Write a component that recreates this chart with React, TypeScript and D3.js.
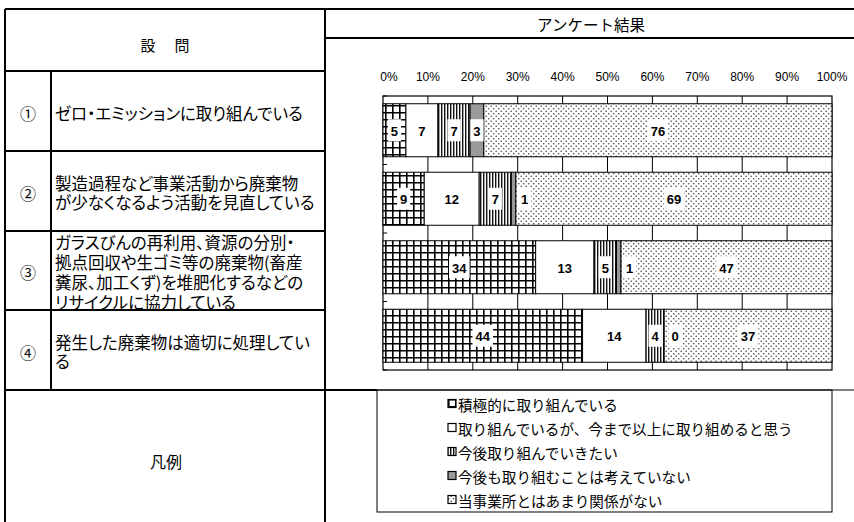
import React, { useEffect, useRef } from 'react';
import * as d3 from 'd3';

// questions (left column) and their wording, one entry per text line
const questionNos = ['①', '②', '③', '④'];
const questionLines = [
  ['ゼロ・エミッションに取り組んでいる'],
  ['製造過程など事業活動から廃棄物', 'が少なくなるよう活動を見直している'],
  ['ガラスびんの再利用、資源の分別・', '拠点回収や生ゴミ等の廃棄物(畜産', '糞尿、加工くず)を堆肥化するなどの', 'リサイクルに協力している'],
  ['発生した廃棄物は適切に処理してい', 'る'],
];

const seriesNames = [
  '積極的に取り組んでいる',
  '取り組んでいるが、今まで以上に取り組めると思う',
  '今後取り組んでいきたい',
  '今後も取り組むことは考えていない',
  '当事業所とはあまり関係がない',
];

// answers per question (%)
const activeValues = [5, 9, 34, 44];
const moreValues = [7, 12, 13, 14];
const futureValues = [7, 7, 5, 4];
const noValues = [3, 1, 1, 0];
const unrelatedValues = [76, 69, 47, 37];

const xTicks = [0, 10, 20, 30, 40, 50, 60, 70, 80, 90, 100];

const fills = ['url(#pGrid)', '#ffffff', 'url(#pVert)', '#999999', 'url(#pDots)'];

const JP = '"Noto Sans CJK JP", sans-serif';
const LAT = '"Liberation Sans", Arial, sans-serif';

export default function App() {
  const ref = useRef<SVGSVGElement>(null);

  useEffect(() => {
    const svg = d3.select(ref.current);
    svg.selectAll('*').remove();

    // patterns
    const defs = svg.append('defs');
    const grid = defs.append('pattern').attr('id', 'pGrid').attr('patternUnits', 'userSpaceOnUse').attr('width', 7).attr('height', 7);
    grid.append('rect').attr('width', 7).attr('height', 7).attr('fill', '#fff');
    grid.append('path').attr('d', 'M0,0.8H7M0.8,0V7').attr('stroke', '#000').attr('stroke-width', 1.6);
    const vert = defs.append('pattern').attr('id', 'pVert').attr('patternUnits', 'userSpaceOnUse').attr('width', 3).attr('height', 6);
    vert.append('rect').attr('width', 3).attr('height', 6).attr('fill', '#fff');
    vert.append('rect').attr('width', 1.4).attr('height', 6).attr('fill', '#111');
    const dots = defs.append('pattern').attr('id', 'pDots').attr('patternUnits', 'userSpaceOnUse').attr('width', 5).attr('height', 5);
    dots.append('rect').attr('width', 5).attr('height', 5).attr('fill', '#fff');
    dots.append('circle').attr('cx', 1.2).attr('cy', 1.2).attr('r', 0.8).attr('fill', '#444');
    dots.append('circle').attr('cx', 3.7).attr('cy', 3.7).attr('r', 0.8).attr('fill', '#444');

    svg.append('rect').attr('width', 854).attr('height', 522).attr('fill', '#fff');

    // table frame
    const thick = (x1: number, y1: number, x2: number, y2: number, w = 2) =>
      svg.append('line').attr('x1', x1).attr('y1', y1).attr('x2', x2).attr('y2', y2).attr('stroke', '#000').attr('stroke-width', w);
    thick(5, 9, 854, 9);
    thick(5, 9, 5, 522);
    thick(325, 9, 325, 522);
    thick(325, 38, 854, 38);
    thick(5, 71, 325, 71);
    thick(51, 71, 51, 390);
    [151, 231, 310].forEach((y) => thick(5, y, 325, y));
    thick(5, 390, 377, 390);
    thick(377, 390, 854, 390, 1);

    svg.append('text').attr('x', 166).attr('y', 44).attr('text-anchor', 'middle').attr('dominant-baseline', 'central')
      .style('font-family', JP).style('font-size', '15px').style('letter-spacing', '2px').text('設　問');
    svg.append('text').attr('x', 591).attr('y', 24).attr('text-anchor', 'middle').attr('dominant-baseline', 'central')
      .style('font-family', JP).style('font-size', '15.5px').text('アンケート結果');
    svg.append('text').attr('x', 166).attr('y', 461).attr('text-anchor', 'middle').attr('dominant-baseline', 'central')
      .style('font-family', JP).style('font-size', '16px').text('凡例');

    // question rows
    const rowTop = [71, 151, 231, 310, 390];
    questionNos.forEach((q, i) => {
      const cy = (rowTop[i] + rowTop[i + 1]) / 2 + 1.5;
      svg.append('text').attr('x', 28).attr('y', cy).attr('text-anchor', 'middle').attr('dominant-baseline', 'central')
        .style('font-family', JP).style('font-size', '16px').text(q);
      const lines = questionLines[i];
      const lh = 19.7;
      const y0 = cy - ((lines.length - 1) * lh) / 2;
      lines.forEach((t, j) => {
        svg.append('text').attr('x', 55).attr('y', y0 + j * lh).attr('dominant-baseline', 'central')
          .style('font-family', JP).style('font-size', '16.5px').style('font-feature-settings', '"palt"').text(t);
      });
    });

    // chart
    const x = d3.scaleLinear().domain([0, 100]).range([383, 832]);
    const y = d3.scaleBand().domain(questionNos).range([96, 370]).paddingInner(0.226).paddingOuter(0.113);

    const table = questionNos.map((q, i) => ({
      q,
      s0: activeValues[i], s1: moreValues[i], s2: futureValues[i], s3: noValues[i], s4: unrelatedValues[i],
    }));
    const keys = ['s0', 's1', 's2', 's3', 's4'];
    const stacked = d3.stack<any>().keys(keys).offset(d3.stackOffsetExpand)(table);

    const plot = svg.append('g');
    plot.append('rect').attr('x', x(0)).attr('y', 96).attr('width', x(100) - x(0)).attr('height', 274)
      .attr('fill', '#fff').attr('stroke', '#000').attr('stroke-width', 1.2);
    plot.selectAll('.grid').data(xTicks.slice(1, -1)).enter().append('line')
      .attr('x1', (d) => x(d)).attr('x2', (d) => x(d)).attr('y1', 96).attr('y2', 370)
      .attr('stroke', '#000').attr('stroke-width', 1);

    // category ticks on band boundaries
    const step = y.step();
    const bounds = d3.range(questionNos.length + 1).map((k) => 96 + k * step);
    plot.selectAll('.ctick').data(bounds).enter().append('line')
      .attr('x1', x(0)).attr('x2', x(0) + 4).attr('y1', (d) => d).attr('y2', (d) => d)
      .attr('stroke', '#000').attr('stroke-width', 1);

    stacked.forEach((layer, si) => {
      plot.selectAll('.bar' + si).data(layer).enter().append('rect')
        .attr('x', (d) => x(d[0] * 100))
        .attr('y', (d) => y(d.data.q) as number)
        .attr('width', (d) => x(d[1] * 100) - x(d[0] * 100))
        .attr('height', y.bandwidth())
        .attr('fill', fills[si])
        .attr('stroke', '#000')
        .attr('stroke-width', 1);
    });

    // value labels
    stacked.forEach((layer, si) => {
      layer.forEach((d) => {
        const val = (d.data as any)[keys[si]];
        const x0 = x(d[0] * 100);
        const x1 = x(d[1] * 100);
        let cx = (x0 + x1) / 2;
        if (x1 - x0 < 6) cx += 11;
        const cy = (y(d.data.q) as number) + y.bandwidth() / 2;
        const label = String(val);
        const w = label.length * 7.3 + 6;
        const g = plot.append('g');
        g.append('rect').attr('x', cx - w / 2).attr('y', cy - 11).attr('width', w).attr('height', 22).attr('fill', '#fff');
        g.append('text').attr('x', cx).attr('y', cy + 1).attr('text-anchor', 'middle').attr('dominant-baseline', 'central')
          .style('font-family', LAT).style('font-weight', 'bold').style('font-size', '13px').text(label);
      });
    });

    // x axis labels
    svg.selectAll('.xl').data(xTicks).enter().append('text')
      .attr('x', (d) => x(d) + (d === 0 ? 6 : 0)).attr('y', 77)
      .attr('text-anchor', 'middle').attr('dominant-baseline', 'central')
      .style('font-family', LAT).style('font-size', '12px').text((d) => d + '%');

    // legend
    svg.append('rect').attr('x', 377).attr('y', 390).attr('width', 455).attr('height', 122)
      .attr('fill', 'none').attr('stroke', '#000').attr('stroke-width', 1);
    seriesNames.forEach((name, i) => {
      const ly = 404 + i * 24;
      svg.append('rect').attr('x', 448).attr('y', ly - 4.5).attr('width', 8).attr('height', 8)
        .attr('fill', fills[i]).attr('stroke', '#000').attr('stroke-width', 1.2);
      svg.append('text').attr('x', 458).attr('y', ly).attr('dominant-baseline', 'central')
        .style('font-family', JP).style('font-size', '14.6px').text(name);
    });
  }, []);

  return (
    <svg ref={ref} width={854} height={522} style={{ position: 'absolute', left: 0, top: 0 }} />
  );
}
